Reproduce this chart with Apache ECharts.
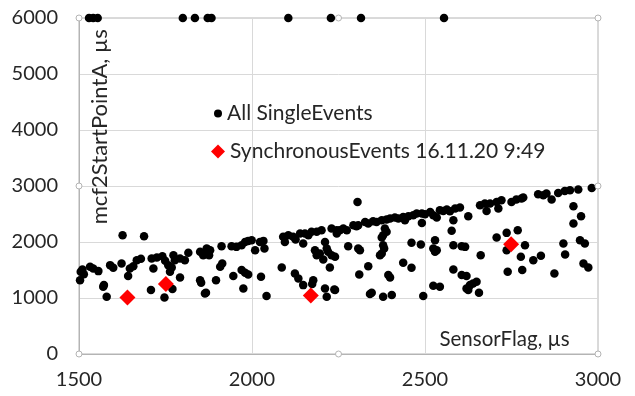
<!DOCTYPE html>
<html>
<head>
<meta charset="utf-8">
<script src="https://cdn.jsdelivr.net/npm/echarts@6/dist/echarts.min.js"></script>
<style>html,body{margin:0;padding:0;background:#fff}#c{width:635px;height:396px}</style>
</head>
<body>
<div id="c"></div>
<script>
// ---- data ----
const xTicks = [1500, 2000, 2500, 3000];
const yTicks = [0, 1000, 2000, 3000, 4000, 5000, 6000];
const seriesNames = ['All SingleEvents', 'SynchronousEvents 16.11.20 9:49'];
const axisTitles = ['SensorFlag, µs', 'mcf2StartPointA, µs'];

const allX = [
 1529,1541,1554,1800,1835,1872,1883,2105,2228,2315,2555,
 1505,1510,1503,1514,1532,1541,1556,1570,1572,1580,1590,1599,1623,1626,1688,1647,1657,1642,1667,1679,
 1710,1725,1741,1715,1708,1749,1758,1768,1773,1777,1763,1747,1770,1792,1792,1816,1806,1850,1859,1872,1850,1853,1864,
 1869,1879,1876,1867,1912,1908,1914,1896,1941,1955,1970,1980,1989,1999,2009,2023,2033,2036,
 1946,1970,1980,1989,1975,2026,2042,2086,
 2090,2095,2105,2119,2126,2139,2153,2163,2172,2187,2201,2230,2245,
 2148,2182,2187,2196,2211,2216,2220,2230,2206,2225,2124,2134,2148,2177,2174,2211,2216,2238,
 2305,2254,2264,2274,2245,2293,2302,2307,
 2327,2336,2350,2360,2375,2389,2399,2413,2423,2437,2442,2452,2466,2476,2491,2500,2515,2524,2534,2543,2553,2563,2572,2587,2601,
 2384,2389,2379,2375,2278,2307,2312,2240,2379,2382,2375,2370,
 2336,2310,2394,2399,2437,2461,2461,2488,2491,2529,2524,2534,2529,2582,2577,2582,2606,2582,2606,
 2240,2341,2346,2379,2404,2495,2524,2543,2625,
 2659,2673,2678,2688,2707,2712,2721,2750,2764,2779,2784,
 2827,2842,2851,2866,2885,2904,2919,2943,2982,2929,2951,2929,
 2707,2736,2768,2736,2789,2777,2813,2835,2661,2739,2781,2874,2900,2905,2948,2962,2958,2972,
 2616,2620,2630,2639,2649,2620,2625,2656
];
const allY = [
 6000,6000,6000,6000,6000,6000,6000,6000,6000,6000,6000,
 1468,1510,1319,1426,1557,1527,1480,1200,1230,1022,1587,1539,1617,2122,2104,1527,1569,1391,1676,1699,
 1706,1724,1747,1527,1141,1664,1587,1546,1765,1676,1468,1011,1159,1367,1706,1806,1676,1824,1765,1866,1319,1271,1082,
 1884,1854,1765,1093,1926,1557,1617,1319,1926,1913,1943,2002,2020,2033,1854,2002,2020,1884,
 1391,1498,1450,1421,1171,1379,1034,1546,
 2092,2002,2122,2092,2045,2152,2152,2122,2181,2181,2211,2241,2211,
 1973,1854,1765,1795,2002,1884,1824,1765,1688,1546,1439,1350,1230,1319,1248,1171,1022,1153,
 2716,2211,2241,2211,2152,2300,2282,2300,
 2359,2330,2371,2359,2389,2401,2419,2437,2419,2448,2389,2460,2478,2508,2508,2496,2537,2478,2437,2567,2555,2579,2549,2597,2615,
 2241,2181,2122,2081,1926,1884,1854,1735,1943,1884,1795,1765,
 1569,1421,1409,1367,1628,1539,1985,1956,2341,2033,1884,1854,1824,2389,2199,1943,1926,1510,1409,
 1141,1070,1093,1022,1052,1034,1218,1200,2460,
 2657,2687,2555,2687,2716,2597,2746,2716,2758,2776,2794,
 2853,2835,2865,2758,2876,2912,2924,2937,2965,2639,2460,2330,
 2081,2163,2211,1854,1943,1735,1676,1753,1765,1468,1498,1439,1973,1777,2033,1973,1617,1546,
 1913,1391,1230,1260,1289,1171,1141,1093
];
const syncX = [1640, 1751, 2170, 2749];
const syncY = [1011, 1248, 1046, 1961];

// ---- chart ----
const FONT = 'Lato';
const chart = echarts.init(document.getElementById('c'), null, {renderer: 'canvas'});
const zip = (a, b) => a.map((v, i) => [v, b[i]]);
const plain = v => String(v);

chart.setOption({
  animation: false,
  backgroundColor: '#fff',
  grid: {left: 79, right: 37, top: 18, bottom: 42, show: true, borderColor: '#b4b4b4', borderWidth: 1},
  xAxis: {
    type: 'value', min: xTicks[0], max: xTicks[xTicks.length - 1], interval: xTicks[1] - xTicks[0],
    axisLine: {show: true, lineStyle: {color: '#b4b4b4'}},
    axisTick: {show: false},
    splitLine: {show: true, lineStyle: {color: '#d9d9d9'}},
    axisLabel: {fontFamily: FONT, fontSize: 20, color: '#262626', margin: 16, formatter: plain}
  },
  yAxis: {
    type: 'value', min: yTicks[0], max: yTicks[yTicks.length - 1], interval: yTicks[1] - yTicks[0],
    axisLine: {show: true, lineStyle: {color: '#b4b4b4'}},
    axisTick: {show: false},
    splitLine: {show: true, lineStyle: {color: '#d9d9d9'}},
    axisLabel: {fontFamily: FONT, fontSize: 20, color: '#262626', margin: 21, formatter: plain}
  },
  legend: [
    {data: [{name: seriesNames[0], icon: 'circle'}], left: 209, top: 98, itemWidth: 8, itemHeight: 8,
     textStyle: {fontFamily: FONT, fontSize: 21, color: '#262626', padding: [0,0,0,0]}, selectedMode: false},
    {data: [{name: seriesNames[1], icon: 'diamond'}], left: 206, top: 136, itemWidth: 14, itemHeight: 14,
     textStyle: {fontFamily: FONT, fontSize: 21, color: '#262626', padding: [0,0,0,0]}, selectedMode: false}
  ],
  series: [
    {name: seriesNames[0], type: 'scatter', data: zip(allX, allY), symbol: 'circle', symbolSize: 8.5,
     itemStyle: {color: '#000', opacity: 1}, z: 2},
    {name: seriesNames[1], type: 'scatter', data: zip(syncX, syncY), symbol: 'diamond', symbolSize: 16,
     itemStyle: {color: '#ff0000', opacity: 1}, z: 3}
  ]
});

// axis titles & selection handles positioned from the axis scales
const p = (x, y) => chart.convertToPixel({gridIndex: 0}, [x, y]);
const xMin = xTicks[0], xMax = xTicks[xTicks.length - 1], yMin = yTicks[0], yMax = yTicks[yTicks.length - 1];
const xMid = (xMin + xMax) / 2, yMid = (yMin + yMax) / 2;
const yTitlePos = p(xMin, yMax * 0.84);
const xTitlePos = p(xMin + (xMax - xMin) * 0.82, yMax * 0.03);
const handles = [[xMin, yMax], [xMin, yMid], [xMin, yMin], [xMid, yMax], [xMid, yMin], [xMax, yMax], [xMax, yMid], [xMax, yMin]]
  .map(([a, b]) => {
    const q = p(a, b);
    return {type: 'circle', shape: {cx: q[0], cy: q[1], r: 3}, style: {fill: '#fff', stroke: '#b4b4b4', lineWidth: 1}, z: 100};
  });
chart.setOption({
  graphic: [
    {type: 'text', x: yTitlePos[0] + 21, y: yTitlePos[1] + 55, rotation: Math.PI / 2,
     style: {text: axisTitles[1], font: '22px ' + FONT, fill: '#262626', align: 'center', verticalAlign: 'middle'}},
    {type: 'text', x: xTitlePos[0], y: xTitlePos[1] - 5,
     style: {text: axisTitles[0], font: '20.5px ' + FONT, fill: '#262626', align: 'center', verticalAlign: 'middle'}}
  ].concat(handles)
});
</script>
</body>
</html>
